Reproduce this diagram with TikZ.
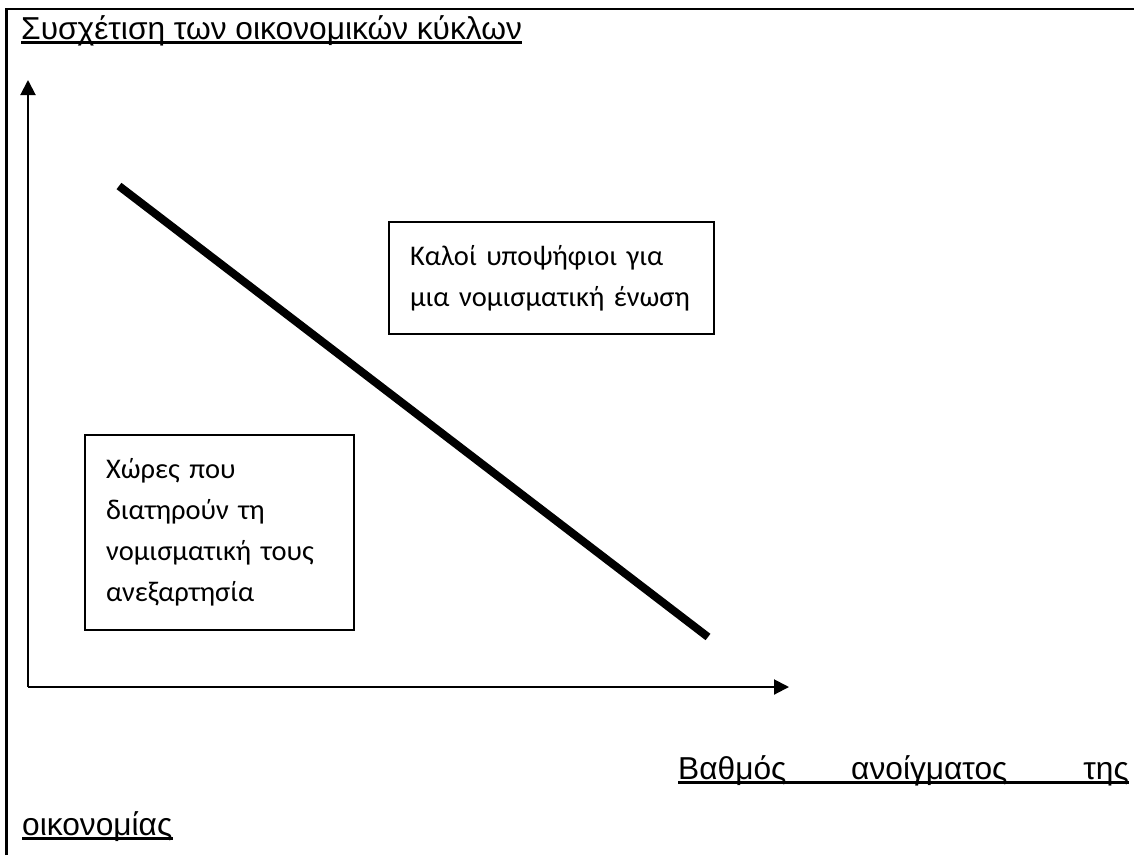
\documentclass[tikz,border=0pt]{standalone}
\usepackage{fontspec}
\setmainfont{Liberation Sans}
\newfontfamily\bodyfont{Carlito}
\usetikzlibrary{arrows.meta}
\tikzset{
	heading/.style = {inner sep=0pt, font=\fontsize{31.7}{36}\selectfont},
	box/.style     = {shape=rectangle, draw, line width=2pt,
		align=left, anchor=north west, inner xsep=21pt,
		font=\bodyfont\fontsize{28.5}{41}\selectfont},
	axis/.style    = {line width=2pt, -{Triangle[length=15pt,width=15pt]}},
	ulined/.style  = {line width=2.2pt},
	frame/.style   = {line width=2.6pt}
}

\begin{document}
\begin{tikzpicture}
	[
	x = 1pt,
	y = -1pt
	]
	\useasboundingbox (0,0) rectangle (1134,855);
	% page frame
	\draw[frame] (6.5,855) -- (6.5,9) -- (1134,9);
	% title
	\node[heading, anchor=base west] (title) at (21,39) {Συσχέτιση των οικονομικών κύκλων};
	\draw[ulined] ([yshift=-3.5pt]title.base west) -- ([yshift=-3.5pt]title.base east);
	% axes
	\coordinate (origin) at (28,687);
	\coordinate (ytop) at (28,80);
	\coordinate (xend) at (789,687);
	\draw[axis] (origin) -- (ytop);
	\draw[axis] (origin) -- (xend);
	% the thick line
	\coordinate (hi) at (119,186);
	\coordinate (lo) at (708,637);
	\draw[line width=8pt] (hi) -- (lo);
	% boxes
	\node[box, text width=283pt, minimum height=112pt] (good) at (388,221)
		{Καλοί υποψήφιοι για\\μια νομισματική ένωση};
	\node[box, text width=227pt, minimum height=195pt] (keep) at (84,434)
		{Χώρες που\\διατηρούν τη\\νομισματική τους\\ανεξαρτησία};
	% x axis caption
	\node[heading, anchor=base west] (degree) at (678,779) {Βαθμός};
	\node[heading, anchor=base west] (opening) at (851,779) {ανοίγματος};
	\node[heading, anchor=base east] (of) at (1129,779) {της};
	\draw[ulined] ([yshift=-3.5pt]degree.base west) -- ([yshift=-3.5pt]of.base east);
	\node[heading, anchor=base west] (economy) at (22,835) {οικονομίας};
	\draw[ulined] ([yshift=-3.5pt]economy.base west) -- ([yshift=-3.5pt]economy.base east);
\end{tikzpicture}
\end{document}
